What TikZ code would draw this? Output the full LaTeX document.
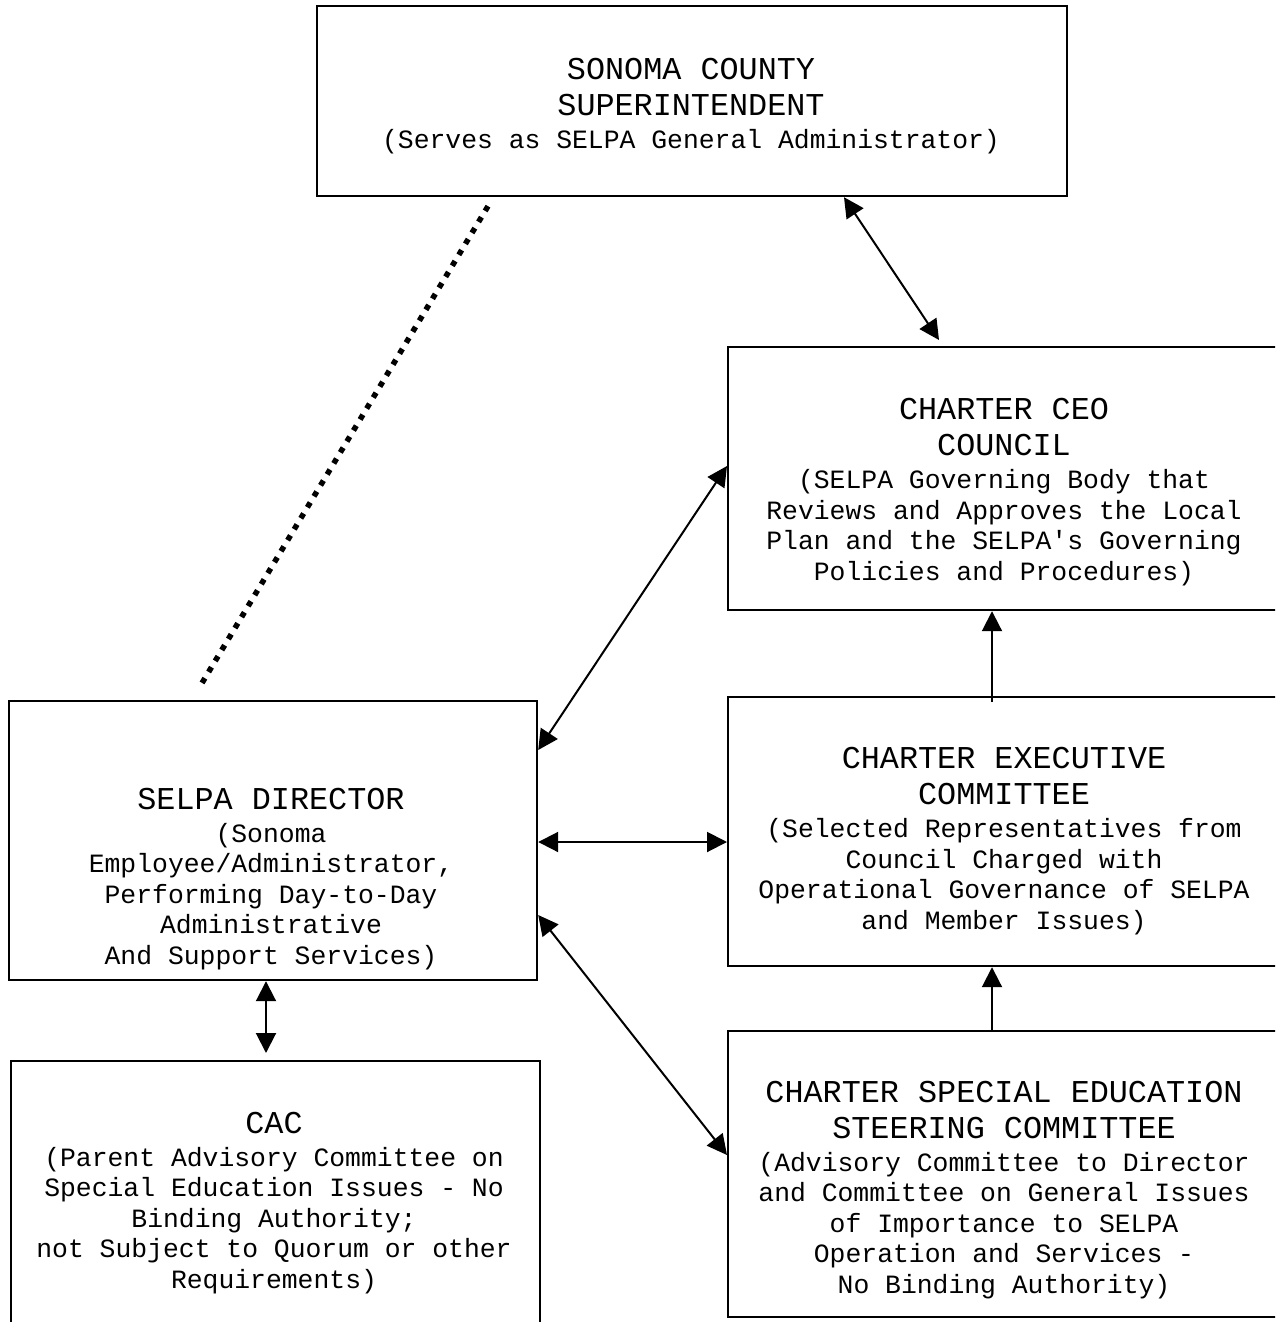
\documentclass[tikz,border=0pt]{standalone}
\usepackage{fontspec}
\setmonofont{Liberation Mono}
\usetikzlibrary{arrows.meta,calc}
\newcommand\ttl{\fontsize{31.8}{36}\selectfont}
\newcommand\sbt{\fontsize{26.4}{30.5}\selectfont}
\begin{document}
\begin{tikzpicture}[x=1pt,y=-1pt,
  box/.style={draw,line width=2.2pt,rectangle,inner sep=0pt,anchor=north west},
  txt/.style={align=center,font=\ttfamily\sbt,inner sep=0pt},
  dbl/.style={{Triangle[length=20pt,width=20pt]}-{Triangle[length=20pt,width=20pt]},line width=2pt},
  sgl/.style={-{Triangle[length=20pt,width=20pt]},line width=2pt},
  dots/.style={line width=5.5pt,dash pattern=on 5.5pt off 7.3pt}]
\useasboundingbox (0,0) rectangle (1275,1322);
\clip (0,0) rectangle (1275,1322);
% boxes
\node[box,minimum width=750pt,minimum height=190pt] (top) at (316,5) {};
\node[box,minimum width=555pt,minimum height=263pt] (ceo) at (727,346) {};
\node[box,minimum width=555pt,minimum height=269pt] (exec) at (727,696) {};
\node[box,minimum width=555pt,minimum height=286pt] (steer) at (727,1030) {};
\node[box,minimum width=528pt,minimum height=279pt] (dir) at (8,700) {};
\node[box,minimum width=529pt,minimum height=290pt] (cac) at (10,1060) {};
% texts
\node[txt] (topT) at (691,106) {\ttl SONOMA COUNTY\\[5.5pt] \ttl SUPERINTENDENT\\[2.5pt] \sbt (Serves as SELPA General Administrator)};
\node[txt] (ceoT) at (1004,492) {\ttl CHARTER CEO\\[5.5pt] \ttl COUNCIL\\[2.5pt] \sbt (SELPA Governing Body that\\ \sbt Reviews and Approves the Local\\ \sbt Plan and the SELPA's Governing\\ \sbt Policies and Procedures)};
\node[txt] (execT) at (1004,841) {\ttl CHARTER EXECUTIVE\\[5.5pt] \ttl COMMITTEE\\[2.5pt] \sbt (Selected Representatives from\\ \sbt Council Charged with\\ \sbt Operational Governance of SELPA\\ \sbt and Member Issues)};
\node[txt] (steerT) at (1004,1190) {\ttl CHARTER SPECIAL EDUCATION\\[5.5pt] \ttl STEERING COMMITTEE\\[2.5pt] \sbt (Advisory Committee to Director\\ \sbt and Committee on General Issues\\ \sbt of Importance to SELPA\\ \sbt Operation and Services -\\ \sbt No Binding Authority)};
\node[txt] (dirT) at (271,879) {\ttl SELPA DIRECTOR\\[2.5pt] \sbt (Sonoma\\ \sbt Employee/Administrator,\\ \sbt Performing Day-to-Day\\ \sbt Administrative\\ \sbt And Support Services)};
\node[txt] (cacT) at (274,1203) {\ttl CAC\\[2.5pt] \sbt (Parent Advisory Committee on\\ \sbt Special Education Issues - No\\ \sbt Binding Authority;\\ \sbt not Subject to Quorum or other\\ \sbt Requirements)};
% helper coordinates
\coordinate (x844) at (844,0);
\coordinate (x939) at (939,0);
\coordinate (x266) at (266,0);
\coordinate (x992) at (992,0);
\coordinate (x488) at (488,0);
\coordinate (x202) at (202,0);
\coordinate (y466) at (0,466);
\coordinate (y750) at (0,750);
\coordinate (y842) at (0,842);
\coordinate (y915) at (0,915);
\coordinate (y1155) at (0,1155);
% connectors
\draw[dbl] (top.south -| x844) -- ($(ceo.north -| x939)+(0,-6)$);
\draw[dbl] (ceo.west |- y466) -- (dir.east |- y750);
\draw[dbl] (dir.east |- y842) -- (exec.west |- y842);
\draw[dbl] (dir.east |- y915) -- (steer.west |- y1155);
\draw[dbl] (dir.south -| x266) -- ($(cac.north -| x266)+(0,-7)$);
\draw[sgl] ($(exec.north -| x992)+(0,6)$) -- (ceo.south -| x992);
\draw[sgl] ($(steer.north -| x992)+(0,2)$) -- (exec.south -| x992);
\draw[dots] ($(top.south -| x488)+(0,9)$) -- ($(dir.north -| x202)+(0,-17)$);
\end{tikzpicture}
\end{document}
